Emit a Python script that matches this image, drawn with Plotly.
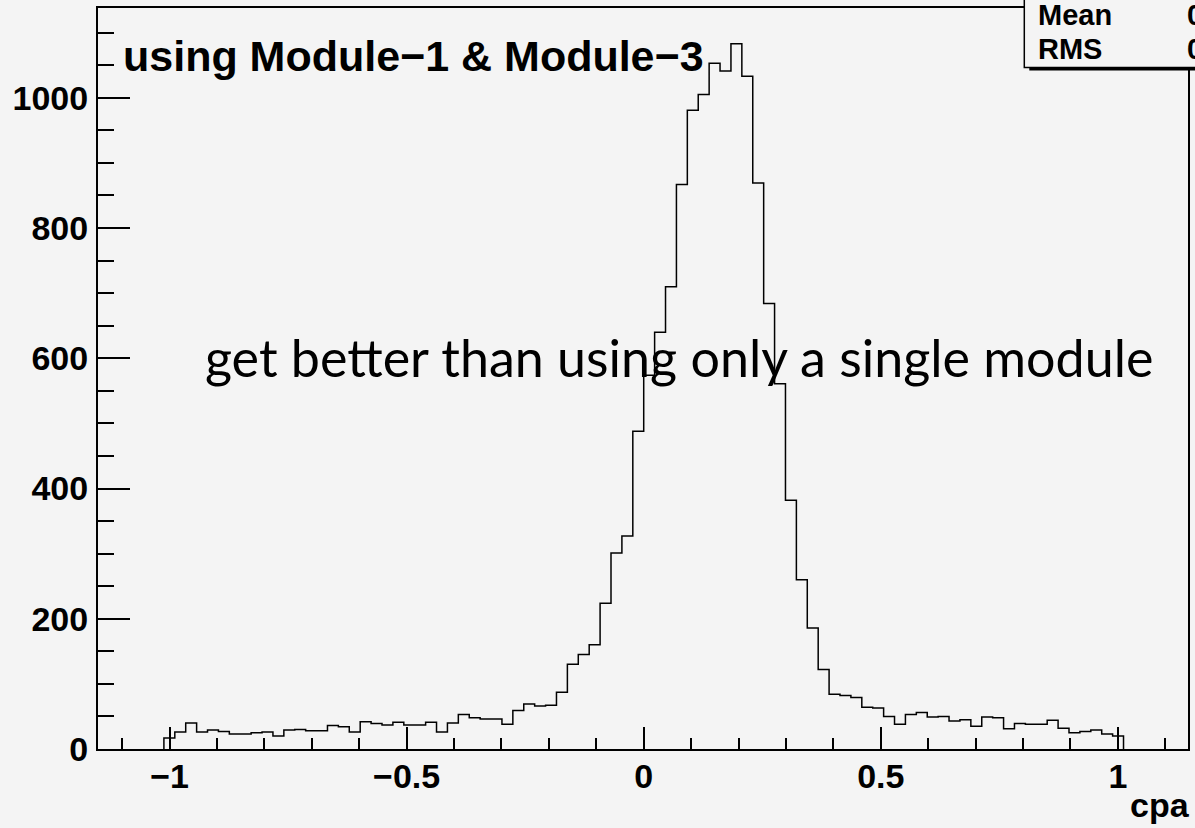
import plotly.graph_objects as go

# ---------------- data ----------------
bin_low = -1.012
bin_high = 1.012
counts = [17, 26, 40, 26, 29, 27, 23, 23, 25, 26,
          20, 29, 30, 28, 28, 36, 34, 26, 42, 39,
          37, 41, 37, 37, 41, 26, 40, 53, 48, 46,
          46, 38, 59, 69, 66, 67, 87, 130, 145, 160,
          224, 301, 327, 488, 574, 640, 710, 867, 981, 1005,
          1053, 1041, 1083, 1033, 869, 684, 561, 382, 260, 186,
          122, 84, 82, 79, 64, 63, 50, 38, 53, 56,
          49, 50, 43, 45, 35, 49, 48, 31, 39, 38,
          38, 44, 32, 25, 27, 29, 23, 20]
x_tickvals = [-1, -0.5, 0, 0.5, 1]
x_ticktext = ["\u22121", "\u22120.5", "0", "0.5", "1"]
y_tickvals = [0, 200, 400, 600, 800, 1000]
y_ticktext = ["0", "200", "400", "600", "800", "1000"]
x_title = "cpa"
label_text = "using Module\u22121 & Module\u22123"
comment_text = "get better than using only a single module"

# ---------------- derived ----------------
n_bins = len(counts)
width = (bin_high - bin_low) / n_bins
edges = [bin_low + i * width for i in range(n_bins + 1)]
centers = [bin_low + (i + 0.5) * width for i in range(n_bins)]
tot = sum(counts)
mean = sum(c * v for c, v in zip(centers, counts)) / tot
rms = (sum(v * (c - mean) ** 2 for c, v in zip(centers, counts)) / tot) ** 0.5

step_x = [edges[0]] + edges[:n_bins] + [edges[-1]]
step_y = [0] + counts + [0]

BG = "#f4f4f4"
W, H = 1195, 828
ML, MR, MT, MB = 98, 5, 8, 79
PW = W - ML - MR
PH = H - MT - MB


def px(x):
    return (x - ML) / PW


def py(y):
    return (H - MB - y) / PH


fig = go.Figure()
fig.add_trace(go.Scatter(
    x=step_x, y=step_y, mode="lines",
    line=dict(color="black", width=1.5, shape="hv"),
    hoverinfo="skip", showlegend=False,
))

axis_font = dict(family="Liberation Sans, Arial, sans-serif", color="black", weight="bold")

fig.update_layout(
    width=W, height=H,
    margin=dict(l=ML, r=MR, t=MT, b=MB, pad=0),
    paper_bgcolor=BG, plot_bgcolor=BG,
    showlegend=False,
    xaxis=dict(
        range=[-1.151, 1.148], tickmode="array", tickvals=x_tickvals, ticktext=x_ticktext,
        ticks="inside", ticklen=22, tickwidth=2, tickcolor="black",
        minor=dict(dtick=0.1, tick0=0, ticks="inside", ticklen=11, tickwidth=2, tickcolor="black"),
        showline=True, linecolor="black", linewidth=2, mirror=True,
        showgrid=False, zeroline=False,
        tickfont=dict(size=34, **axis_font), ticklabelstandoff=-4,
    ),
    yaxis=dict(
        range=[0, 1137.9], tickmode="array", tickvals=y_tickvals, ticktext=y_ticktext,
        ticks="inside", ticklen=32, tickwidth=2, tickcolor="black",
        minor=dict(dtick=50, tick0=0, ticks="inside", ticklen=16, tickwidth=2, tickcolor="black"),
        showline=True, linecolor="black", linewidth=2, mirror=True,
        showgrid=False, zeroline=False,
        tickfont=dict(size=34, **axis_font), ticklabelstandoff=1,
    ),
)

# stat box (shadow + box)
fig.add_shape(type="rect", xref="paper", yref="paper",
              x0=px(1031), x1=px(1320), y0=py(70.5), y1=py(-20),
              fillcolor="black", line=dict(width=0), layer="above")
fig.add_shape(type="rect", xref="paper", yref="paper",
              x0=px(1026), x1=px(1320), y0=py(67.5), y1=py(-20),
              fillcolor=BG, line=dict(color="black", width=1.5), layer="above")

annos = [
    dict(text="Mean", x=px(1038), y=py(15), xanchor="left", yanchor="middle", size=29),
    dict(text="RMS", x=px(1038), y=py(49), xanchor="left", yanchor="middle", size=29),
    dict(text=f"{mean:.4f}", x=px(1187), y=py(15), xanchor="left", yanchor="middle", size=29),
    dict(text=f"{rms:.4f}", x=px(1187), y=py(49), xanchor="left", yanchor="middle", size=29),
    dict(text=x_title, x=px(1194), y=py(805), xanchor="right", yanchor="middle", size=34),
    dict(text=label_text, x=px(121), y=py(56), xanchor="left", yanchor="middle", size=43),
]
for a in annos:
    fig.add_annotation(text=a["text"], x=a["x"], y=a["y"], xref="paper", yref="paper",
                       xanchor=a["xanchor"], yanchor=a["yanchor"], showarrow=False,
                       font=dict(size=a["size"], **axis_font))

fig.add_annotation(text=comment_text, x=px(203), y=py(357), xref="paper", yref="paper",
                   xanchor="left", yanchor="middle", showarrow=False,
                   font=dict(family="Lato, sans-serif", size=52, color="black"))

fig.write_html("out.html")
